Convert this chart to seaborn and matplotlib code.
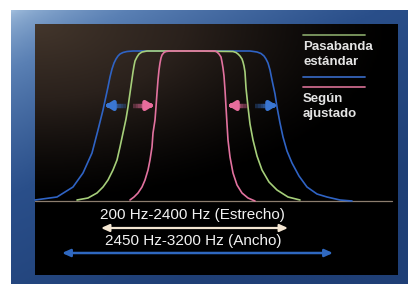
import numpy as np
import pandas as pd
import seaborn as sns
import matplotlib.pyplot as plt
from matplotlib.colors import LinearSegmentedColormap

sns.set_theme(style="white")
plt.rcParams['font.family'] = ['Liberation Sans', 'DejaVu Sans']

# Curves (x, y in picture pixel units, y grows downward)
blue_x = [35, 57, 73, 83, 92, 98, 103, 108, 110, 112, 114, 116, 118, 120, 123, 127, 133, 190, 250, 257, 261, 264, 266, 268, 270, 272, 275, 277, 280, 283, 287, 292, 299, 307, 317, 327, 340, 352]
blue_y = [200, 197, 187, 173, 153, 130, 110, 87, 77, 69, 63, 59, 56, 54, 52.5, 51.5, 51, 51, 51, 52, 53.5, 56, 59, 63, 70, 80, 94, 107, 123, 137, 151, 163, 176, 187, 194, 197, 200, 201]
green_x = [77, 88, 97, 103, 108, 113, 117, 120, 123, 126, 128, 130, 131, 132, 133, 134, 135, 137, 139, 142, 147, 190, 233, 236, 238, 240, 242, 243, 244, 245, 246, 248, 250, 253, 257, 262, 269, 277, 288, 300]
green_y = [200, 198, 193, 187, 180, 170, 160, 147, 133, 119, 107, 93, 86, 79, 72, 66, 61, 57, 54, 52, 51, 51, 51.5, 52.5, 54, 56, 59, 62, 66, 72, 88, 107, 124, 140, 156, 170, 182, 190, 197, 200]
pink_x = [130, 134, 138, 142, 145, 148, 150, 152, 153, 155, 156, 157, 158, 159, 160, 161, 162, 164, 166, 170, 194, 215, 217, 219, 221, 222, 223, 224, 225, 226, 227, 228, 230, 233, 237, 242, 248, 255]
pink_y = [200, 197, 193, 187, 180, 170, 160, 147, 133, 120, 107, 93, 80, 70, 63, 58, 55, 52.5, 51.5, 51, 51, 51, 52, 54, 57, 62, 68, 76, 90, 107, 124, 140, 157, 173, 185, 193, 198, 201]

legend_labels = ["Pasabanda\nestándar", "Según\najustado"]
range_labels = ["200 Hz-2400 Hz (Estrecho)", "2450 Hz-3200 Hz (Ancho)"]

C_BLUE = "#2f63c4"
C_GREEN = "#a6cf7a"
C_PINK = "#e2729f"

fig = plt.figure(figsize=(4.08, 2.84), dpi=100)
fig.patch.set_facecolor("white")
ax = fig.add_axes([0, 0, 1, 1])
ax.set_xlim(0, 408)
ax.set_ylim(284, 0)
ax.axis("off")

# Blue frame gradient (diagonal)
gx, gy = np.meshgrid(np.linspace(0, 1, 200), np.linspace(0, 1, 150))
g = np.clip(0.55 * gx + 0.75 * gy, 0, 1) ** 0.6
frame_cmap = LinearSegmentedColormap.from_list("fr", ["#a3c0de", "#5a80b4", "#2a4f8a", "#1f3f76"])
ax.imshow(g, cmap=frame_cmap, extent=(11, 408, 284, 10), aspect="auto", zorder=0, interpolation="bilinear")

# Dark panel gradient
d = np.clip(1 - np.sqrt((gx * 1.0) ** 2 + (gy * 1.4) ** 2), 0, 1) ** 1.3
panel_cmap = LinearSegmentedColormap.from_list("pn", ["#000000", "#2a211c", "#43362c"])
ax.imshow(d, cmap=panel_cmap, extent=(35, 398, 275, 24), aspect="auto", zorder=1, interpolation="bilinear")

# Baseline
ax.plot([35, 392], [201, 201], color="#8c7d6e", lw=0.9, zorder=2)

# Curves
for xs, ys, c in [(blue_x, blue_y, C_BLUE), (green_x, green_y, C_GREEN), (pink_x, pink_y, C_PINK)]:
    df = pd.DataFrame({"x": xs, "y": ys})
    sns.lineplot(data=df, x="x", y="y", sort=False, color=c, lw=1.2, ax=ax, zorder=3)
ax.set_xlim(0, 408)
ax.set_ylim(284, 0)
ax.set_xlabel("")
ax.set_ylabel("")

# Small fuzzy arrows
def fuzzy_arrow(tail, head, y, color):
    n = 8
    xs = np.linspace(tail, head, n + 1)
    for i in range(n - 2):
        ax.plot([xs[i], xs[i + 1]], [y, y], color=color, lw=3.2, alpha=0.3 + 0.11 * i,
                solid_capstyle="butt", zorder=4)
    ax.annotate("", xy=(head, y), xytext=(xs[n - 2], y),
                arrowprops=dict(arrowstyle="-|>,head_length=0.32,head_width=0.2", lw=3.2,
                                color=color, shrinkA=0, shrinkB=0), zorder=5)

fuzzy_arrow(126, 105, 105.5, "#3a76d2")
fuzzy_arrow(133, 154, 105.5, "#e86c9c")
fuzzy_arrow(248, 228, 105.5, "#e86c9c")
fuzzy_arrow(255, 277, 105.5, "#3a76d2")

# Legend
ax.plot([303, 365], [35, 35], color="#7f9c62", lw=1.3, zorder=4)
ax.plot([303, 365], [77, 77], color="#3563b8", lw=1.3, zorder=4)
ax.plot([303, 365], [87, 87], color="#c8688a", lw=1.3, zorder=4)
ax.text(303, 54.5, legend_labels[0], color="#e4e4e4", fontsize=9.5, fontweight="bold",
        va="center", ha="left", linespacing=1.35, zorder=5)
ax.text(303, 106.5, legend_labels[1], color="#e4e4e4", fontsize=9.5, fontweight="bold",
        va="center", ha="left", linespacing=1.35, zorder=5)

# Range annotations
ax.text(192.5, 215.5, range_labels[0], color="#f2f2f2", fontsize=11, ha="center", va="center", zorder=5)
ax.annotate("", xy=(101, 228), xytext=(288, 228),
            arrowprops=dict(arrowstyle="<|-|>,head_length=0.4,head_width=0.18", lw=1.6,
                            color="#f4e6d2", shrinkA=0, shrinkB=0), zorder=5)
ax.text(193, 241, range_labels[1], color="#f2f2f2", fontsize=11, ha="center", va="center", zorder=5)
ax.annotate("", xy=(62, 253), xytext=(333, 253),
            arrowprops=dict(arrowstyle="<|-|>,head_length=0.4,head_width=0.18", lw=1.8,
                            color="#2f68c0", shrinkA=0, shrinkB=0), zorder=5)

fig.savefig("out.png", dpi=100)
